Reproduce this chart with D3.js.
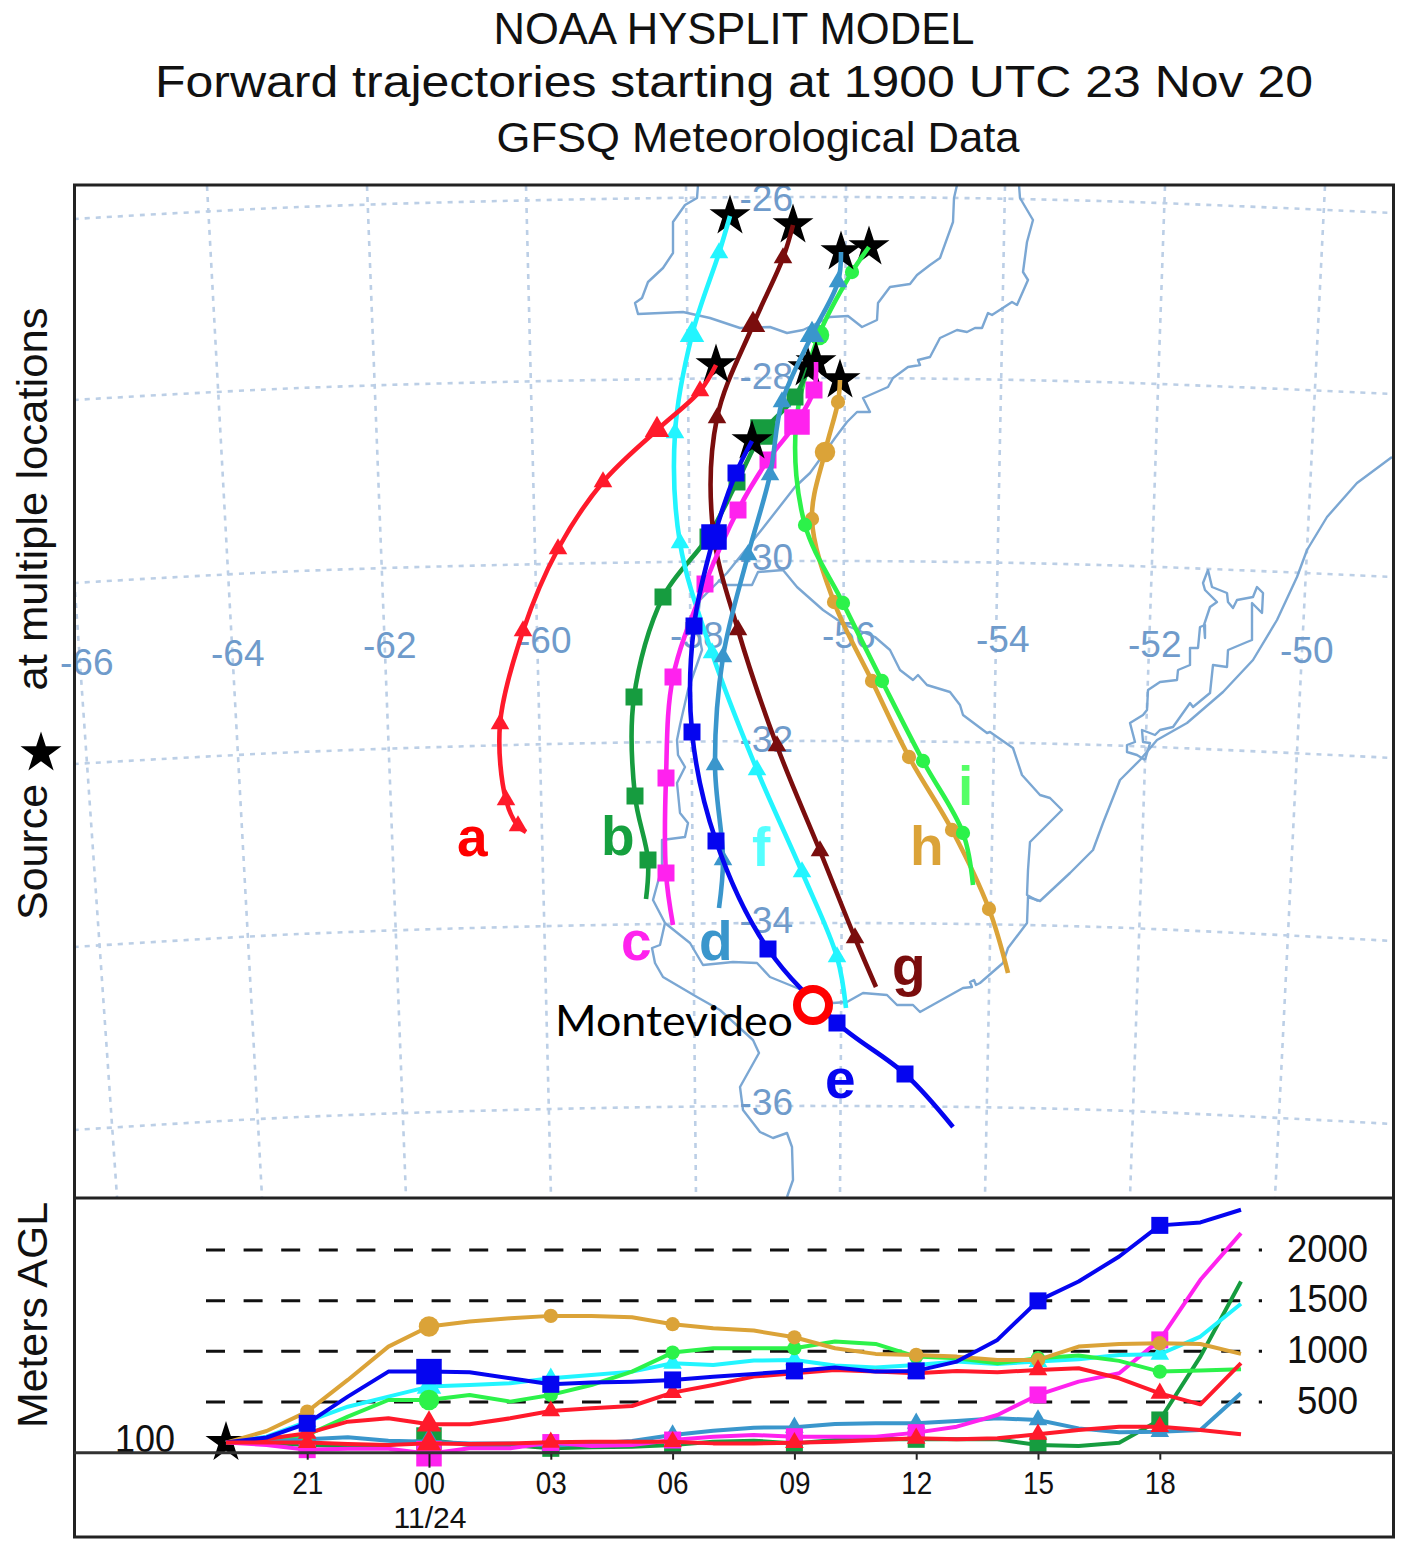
<!DOCTYPE html>
<html>
<head>
<meta charset="utf-8">
<script src="https://cdn.jsdelivr.net/npm/d3@7"></script>
<style>
  body { margin: 0; background: #fff; }
  svg text { font-family: "Liberation Sans", Arial, sans-serif; }
</style>
</head>
<body>
<svg id="chart" width="1409" height="1549"></svg>
<script>
// map plane units
var parallel26 = [[74,219],[300,207],[600,199],[847,197],[1100,201],[1393,213]];
var parallel28 = [[74,400],[300,388],[600,380],[847,378],[1100,382],[1393,394]];
var parallel30 = [[74,583],[300,571],[600,563],[847,561],[1100,565],[1393,577]];
var parallel32 = [[74,764],[300,752],[600,743],[847,741],[1100,745],[1393,758]];
var parallel34 = [[74,947],[300,934],[600,925],[847,923],[1100,927],[1393,941]];
var parallel36 = [[74,1130],[300,1117],[600,1108],[847,1106],[1100,1110],[1393,1124]];
var meridianTop = [47,207,367,526,686,846,1005,1165,1325];
var meridianBottom = [117,262,406,551,696,840,985,1130,1275];

var lonLabels = ['-66','-64','-62','-60','-58','-56','-54','-52','-50'];
var latLabels = ['-26','-28','-30','-32','-34','-36'];

// coast and borders
var borderNorthWest = [[698,185],[697,198],[685,205],[673,222],[673,253],[663,268],[648,282],[642,298],[635,303],[638,314],[683,312],[710,318],[740,328],[770,327],[787,333],[803,330],[830,317],[848,316],[862,327],[877,320],[878,303],[890,287],[910,284],[917,275],[930,265],[940,258],[953,222],[954,198],[957,185]];
var borderRiver = [[1019,185],[1020,198],[1033,220],[1027,242],[1023,272],[1028,280],[1017,305],[1012,302],[992,315],[988,313],[982,328],[975,328],[967,332],[957,330],[940,338],[930,357],[918,360],[920,365],[908,367],[893,378],[888,387],[863,398],[870,412],[857,412],[847,422],[835,438],[818,462],[810,473],[795,487],[763,528],[727,573],[717,583],[700,600],[697,625],[702,650],[688,690],[680,725],[677,740],[678,755],[685,767],[677,783],[680,813],[688,823],[685,837],[662,840],[662,867],[653,900],[665,923],[690,943],[703,965],[733,962],[757,963],[770,977],[797,988],[833,1003],[847,1002],[863,993],[887,995],[897,1005],[913,1005],[920,1012],[963,988],[972,987],[970,982],[974,980],[976,985],[980,983],[1003,963],[1008,948],[1027,923],[1028,897],[1040,901],[1070,873],[1093,850],[1103,823],[1120,780],[1140,760],[1157,740],[1187,723],[1223,692],[1253,660],[1277,620],[1297,577],[1307,550],[1327,517],[1357,483],[1392,457]];
var borderUruguay = [[718,580],[725,585],[752,585],[758,572],[783,570],[797,587],[823,610],[845,625],[875,637],[890,650],[900,670],[913,680],[918,675],[927,685],[950,692],[960,705],[963,715],[987,733],[990,732],[1013,748],[1022,775],[1040,795],[1050,798],[1062,810],[1030,842],[1028,870],[1027,895],[1038,901]];
var borderPlata = [[665,923],[660,945],[652,948],[655,963],[663,977],[697,997],[720,1010],[753,1040],[759,1053],[740,1087],[743,1110],[760,1132],[773,1138],[787,1133],[792,1147],[793,1180],[787,1197]];
var lagoon = [[1145,760],[1137,755],[1127,752],[1127,745],[1135,742],[1130,723],[1143,715],[1147,710],[1148,690],[1160,682],[1177,680],[1178,670],[1190,665],[1190,648],[1198,648],[1200,627],[1205,625],[1205,638],[1204,625],[1210,607],[1217,602],[1205,590],[1203,583],[1208,570],[1212,587],[1227,593],[1228,602],[1233,608],[1237,600],[1253,597],[1257,587],[1263,593],[1262,613],[1252,603],[1252,640],[1247,642],[1228,650],[1227,667],[1213,665],[1210,693],[1193,707],[1190,703],[1173,727],[1160,730],[1155,735],[1142,730],[1143,742],[1150,743],[1145,760]];

// trajectories: source, 21, 00, 03, 06, 09, 12, 15, 18, end
var trajA = [[716,365],[700,391],[657,430],[603,482],[558,549],[523,631],[500,724],[506,800],[518,826],[526,832]];
var trajB = [[808,368],[795,397],[763,432],[737,482],[708,537],[663,597],[634,697],[635,796],[648,860],[646,899]];
var trajC = [[816,362],[814,390],[797,422],[768,460],[738,510],[705,584],[673,677],[666,778],[666,873],[673,925]];
var trajD = [[841,252],[838,282],[812,335],[782,402],[770,475],[748,555],[723,657],[715,765],[723,860],[719,908]];
var trajE = [[752,441],[736,473],[714,537],[694,626],[692,732],[716,841],[768,949],[837,1023],[905,1074],[953,1127]];
var trajF = [[730,216],[719,253],[692,335],[675,433],[680,543],[712,653],[757,770],[802,872],[837,957],[846,1008]];
var trajG = [[793,225],[783,258],[753,325],[717,418],[713,530],[738,630],[777,746],[820,851],[855,938],[876,987]];
var trajH = [[840,380],[838,402],[825,452],[812,519],[834,602],[872,681],[909,757],[952,830],[989,909],[1008,973]];
var trajI = [[869,247],[852,272],[819,335],[796,425],[805,525],[843,603],[882,681],[923,761],[963,833],[973,885]];

// metres above ground, one value per hour from the 19 UTC start
var heightA = [100,135,191,306,339,280,280,339,412,438,461,593,668,751,784,817,800,784,807,794,817,833,734,586,477,883];
var heightB = [100,98,76,66,76,125,76,76,43,53,59,76,109,119,92,125,135,132,132,132,76,66,99,323,948,1689];
var heightC = [100,76,30,40,40,-10,43,43,100,66,76,125,158,175,158,158,158,198,257,372,570,701,784,1113,1706,2167];
var heightD = [100,132,132,152,119,109,92,92,69,92,115,175,217,247,250,283,290,290,313,339,323,240,201,207,224,586];
var heightE = [100,150,290,553,800,800,794,734,675,692,701,718,750,777,807,840,800,807,899,1113,1498,1689,1936,2243,2272,2397];
var heightF = [100,158,306,454,553,652,668,685,734,767,800,882,866,909,915,860,840,866,899,876,899,922,965,971,1146,1469];
var heightG = [100,100,100,86,76,92,86,92,102,109,109,109,92,92,99,109,125,142,132,142,181,224,257,257,224,181];
var heightH = [100,214,405,718,1047,1245,1294,1327,1350,1350,1337,1268,1228,1205,1139,1031,975,965,948,915,915,1047,1073,1080,1073,975];
var heightI = [100,142,175,356,520,520,570,504,570,668,800,988,1031,1031,1031,1097,1073,948,932,882,932,958,906,800,810,823];

var timeTicks = [2,5,8,11,14,17,20,23];
var timeLabels = ['21','00','03','06','09','12','15','18'];
var heightTicks = [500,1000,1500,2000];

var svg = d3.select('#chart');

var mapX = d3.scaleLinear().domain([74,1394]).range([74,1394]);
var mapY = d3.scaleLinear().domain([185,1198]).range([185,1198]);
var timeX = d3.scaleLinear().domain([0,25]).range([226,1241]);
var heightY = d3.scaleLinear().domain([0,2000]).range([1452.7,1250]);

var mapLine = d3.line().x(d => mapX(d[0])).y(d => mapY(d[1]));
var trajLine = d3.line().x(d => mapX(d[0])).y(d => mapY(d[1])).curve(d3.curveCatmullRom.alpha(0.5));
var heightLine = d3.line().x((d,i) => timeX(i)).y(d => heightY(d));

var triangle = {type: d3.symbolTriangle, small: 150, big: 260};
var square = {type: d3.symbolSquare, small: 289, big: 650};
var circle = {type: d3.symbolCircle, small: 160, big: 330};

// draw order is the order the model plots them
var series = [
	{id:'h', traj:trajH, height:heightH, color:'#dba338', mark:circle, labelColor:'#dba338', lx:910, ly:865},
	{id:'i', traj:trajI, height:heightI, color:'#2cf24a', mark:circle, labelColor:'#55ff66', lx:958, ly:805},
	{id:'b', traj:trajB, height:heightB, color:'#169c3f', mark:square, labelColor:'#16a03f', lx:601, ly:855},
	{id:'g', traj:trajG, height:heightG, color:'#7a0d0d', heightColor:'#ff1a2b', mark:triangle, labelColor:'#7a0d0d', lx:892, ly:985},
	{id:'f', traj:trajF, height:heightF, color:'#22f5ff', mark:triangle, labelColor:'#55ffff', lx:752, ly:866},
	{id:'a', traj:trajA, height:heightA, color:'#ff1a2b', mark:triangle, labelColor:'#ff0000', lx:457, ly:856},
	{id:'c', traj:trajC, height:heightC, color:'#ff22ee', mark:square, labelColor:'#ff22ee', lx:621, ly:960},
	{id:'d', traj:trajD, height:heightD, color:'#3a96cc', mark:triangle, labelColor:'#3a96cc', lx:699, ly:960},
	{id:'e', traj:trajE, height:heightE, color:'#0505f0', mark:square, labelColor:'#0505f0', lx:825, ly:1098}
];
var heightOrder = ['b','d','c','f','i','h','a','e','g'];

function symbolPath(mark, big){
	return d3.symbol().type(mark.type).size(big ? mark.big : mark.small)();
}
var starPath = d3.symbol().type(d3.symbolStar).size(520)();

//Titles
function fitText(sel, text, x, y, size, width){
	return sel.append('text')
		.attr('x', x)
		.attr('y', y)
		.attr('text-anchor', 'middle')
		.attr('font-size', size)
		.attr('textLength', width)
		.attr('lengthAdjust', 'spacingAndGlyphs')
		.attr('fill', '#111')
		.text(text);
}
fitText(svg, 'NOAA HYSPLIT MODEL', 734, 44, 45, 481);
fitText(svg, 'Forward trajectories starting at 1900 UTC 23 Nov 20', 734, 97, 45, 1158);
fitText(svg, 'GFSQ Meteorological Data', 758, 152, 43, 523);

//Left side labels
function sideLabel(text, y, width){
	svg.append('text')
		.attr('transform', 'translate(47,' + y + ') rotate(-90)')
		.attr('text-anchor', 'middle')
		.attr('font-size', 42)
		.attr('textLength', width)
		.attr('lengthAdjust', 'spacingAndGlyphs')
		.attr('fill', '#111')
		.text(text);
}
sideLabel('Source', 852, 136);
sideLabel('at multiple locations', 499, 383);
sideLabel('Meters AGL', 1315, 226);
svg.append('path')
	.attr('d', starPath)
	.attr('transform', 'translate(41,753)')
	.attr('fill', '#000');

//Map panel
svg.append('clipPath').attr('id', 'mapClip')
  .append('rect')
	.attr('x', 74).attr('y', 185).attr('width', 1320).attr('height', 1013);

var map = svg.append('g').attr('clip-path', 'url(#mapClip)');

var gridLines = [parallel26, parallel28, parallel30, parallel32, parallel34, parallel36]
	.concat(meridianTop.map((top,i) => [[top,186],[meridianBottom[i],1197]]));
map.selectAll('.grid')
	.data(gridLines)
  .enter().append('path')
	.classed('grid', true)
	.attr('d', d => trajLine(d))
	.attr('fill', 'none')
	.attr('stroke', '#bccfe6')
	.attr('stroke-width', 2.6)
	.attr('stroke-dasharray', '5 6');

map.selectAll('.coast')
	.data([borderNorthWest, borderRiver, borderUruguay, borderPlata, lagoon])
  .enter().append('path')
	.classed('coast', true)
	.attr('d', mapLine)
	.attr('fill', 'none')
	.attr('stroke', '#7ba7d3')
	.attr('stroke-width', 2.4)
	.attr('stroke-linejoin', 'round');

var lonLabelPos = [[60,675],[211,666],[363,658],[518,653],[670,648],[822,648],[976,652],[1128,657],[1280,663]];
var latLabelY = [211,389,570,752,933,1115];

// labels sit outside the clip, -66 runs over the frame
svg.selectAll('.lonLabel')
	.data(lonLabels)
  .enter().append('text')
	.classed('lonLabel', true)
	.attr('x', (d,i) => lonLabelPos[i][0])
	.attr('y', (d,i) => lonLabelPos[i][1])
	.attr('font-size', 37)
	.attr('fill', '#6f9bcb')
	.text(d => d);

svg.selectAll('.latLabel')
	.data(latLabels)
  .enter().append('text')
	.classed('latLabel', true)
	.attr('x', 793)
	.attr('y', (d,i) => latLabelY[i])
	.attr('text-anchor', 'end')
	.attr('font-size', 37)
	.attr('fill', '#6f9bcb')
	.text(d => d);

var trajLayer = svg.append('g').attr('clip-path', 'url(#mapClip)');

var trajGroups = trajLayer.selectAll('.traj')
	.data(series)
  .enter().append('g')
	.classed('traj', true);

trajGroups.append('path')
	.attr('d', starPath)
	.attr('transform', d => 'translate(' + mapX(d.traj[0][0]) + ',' + mapY(d.traj[0][1]) + ')')
	.attr('fill', '#000');

trajGroups.append('path')
	.attr('d', d => trajLine(d.traj))
	.attr('fill', 'none')
	.attr('stroke', d => d.color)
	.attr('stroke-width', 4.6)
	.attr('stroke-linecap', 'butt');

trajGroups.each(function(s){
	d3.select(this).selectAll('.marker')
		.data(s.traj.slice(1, 9))
	  .enter().append('path')
		.classed('marker', true)
		.attr('d', (d,i) => symbolPath(s.mark, i === 1))
		.attr('transform', d => 'translate(' + mapX(d[0]) + ',' + mapY(d[1]) + ')')
		.attr('fill', s.color);
});

//Letters for each trajectory
trajLayer.selectAll('.letter')
	.data(series)
  .enter().append('text')
	.classed('letter', true)
	.attr('x', d => d.lx)
	.attr('y', d => d.ly)
	.attr('font-size', 55)
	.attr('font-weight', 'bold')
	.attr('fill', d => d.labelColor)
	.text(d => d.id);

//Montevideo
trajLayer.append('circle')
	.attr('cx', mapX(813)).attr('cy', mapY(1005)).attr('r', 16)
	.attr('fill', '#fff')
	.attr('stroke', '#ff0000')
	.attr('stroke-width', 8);

trajLayer.append('text')
	.attr('x', 555).attr('y', 1036)
	.attr('font-size', 42)
	.attr('textLength', 238)
	.attr('lengthAdjust', 'spacingAndGlyphs')
	.style('font-family', 'Lato')
	.attr('fill', '#000')
	.text('Montevideo');

//Height panel
svg.selectAll('.heightRule')
	.data(heightTicks)
  .enter().append('line')
	.classed('heightRule', true)
	.attr('x1', 206).attr('x2', 1262)
	.attr('y1', d => heightY(d)).attr('y2', d => heightY(d))
	.attr('stroke', '#111')
	.attr('stroke-width', 3)
	.attr('stroke-dasharray', '19 18.6');

var heightSeries = heightOrder.map(id => series.find(s => s.id === id));

svg.append('path')
	.attr('d', starPath)
	.attr('transform', 'translate(' + timeX(0) + ',' + heightY(100) + ')')
	.attr('fill', '#000');

var heightGroups = svg.selectAll('.heightTraj')
	.data(heightSeries)
  .enter().append('g')
	.classed('heightTraj', true);

heightGroups.append('path')
	.attr('d', d => heightLine(d.height))
	.attr('fill', 'none')
	.attr('stroke', d => d.heightColor || d.color)
	.attr('stroke-width', 4)
	.attr('stroke-linejoin', 'round');

heightGroups.each(function(s){
	d3.select(this).selectAll('.marker')
		.data(timeTicks)
	  .enter().append('path')
		.classed('marker', true)
		.attr('d', (d,i) => symbolPath(s.mark, i === 1))
		.attr('transform', d => 'translate(' + timeX(d) + ',' + heightY(s.height[d]) + ')')
		.attr('fill', s.heightColor || s.color);
});

//Time axis
var timeAxis = d3.axisBottom(timeX)
	.tickValues(timeTicks)
	.tickFormat((d,i) => timeLabels[i])
	.tickSize(7)
	.tickPadding(12);

var timeG = svg.append('g')
	.attr('transform', 'translate(0,1452.7)')
	.call(timeAxis);
timeG.select('.domain').remove();
timeG.selectAll('line').attr('stroke', '#222').attr('stroke-width', 2);
timeG.selectAll('text')
	.attr('font-size', 31)
	.attr('textLength', 31)
	.attr('lengthAdjust', 'spacingAndGlyphs')
	.style('font-family', '"Liberation Sans"')
	.attr('fill', '#111');
timeG.selectAll('.tick').filter((d,i) => i === 1).select('line').attr('y2', 15);

fitText(svg, '11/24', 430, 1528, 30, 73);
fitText(svg, '100', 145, 1452, 38, 60);

//Height labels on the right
var heightAxis = d3.axisRight(heightY)
	.tickValues(heightTicks)
	.tickFormat(d3.format('d'))
	.tickSize(0);
var heightG = svg.append('g')
	.attr('transform', 'translate(1368,0)')
	.call(heightAxis);
heightG.select('.domain').remove();
heightG.selectAll('text')
	.attr('x', d => d === 500 ? -10 : 0)
	.attr('dy', 11)
	.attr('text-anchor', 'end')
	.attr('font-size', 38)
	.attr('textLength', d => d === 500 ? 61 : 81)
	.attr('lengthAdjust', 'spacingAndGlyphs')
	.style('font-family', '"Liberation Sans"')
	.attr('fill', '#111');

//Frames
svg.append('rect')
	.attr('x', 74.5).attr('y', 185).attr('width', 1319).attr('height', 1352)
	.attr('fill', 'none').attr('stroke', '#222').attr('stroke-width', 3);
svg.append('line')
	.attr('x1', 74).attr('x2', 1394).attr('y1', 1198).attr('y2', 1198)
	.attr('stroke', '#222').attr('stroke-width', 3);
svg.append('line')
	.attr('x1', 74).attr('x2', 1394).attr('y1', 1452.7).attr('y2', 1452.7)
	.attr('stroke', '#333').attr('stroke-width', 3);
</script>
</body>
</html>
